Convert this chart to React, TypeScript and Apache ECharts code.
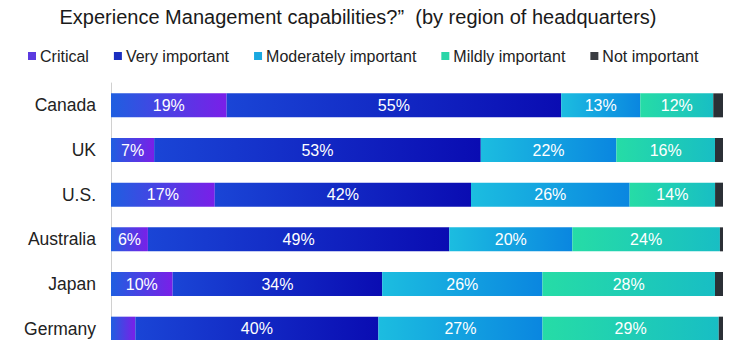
import React, { useEffect, useRef } from "react";
import * as echarts from "echarts";

const categories = ["Canada", "UK", "U.S.", "Australia", "Japan", "Germany"];
const critical = [19, 7, 17, 6, 10, 4];
const veryImportant = [55, 53, 42, 49, 34, 40];
const moderatelyImportant = [13, 22, 26, 20, 26, 27];
const mildlyImportant = [12, 16, 14, 24, 28, 29];
const notImportant = [1.6, 1.3, 1.3, 0.5, 1.3, 0.7];

const titleLine = "Experience Management capabilities?\u201D  (by region of headquarters)";

const seriesDefs = [
  { name: "Critical", data: critical, from: "#1f5fe0", to: "#7a1fe8", legend: "#5b3be0" },
  { name: "Very important", data: veryImportant, from: "#1a45d6", to: "#0a0cb2", legend: "#1a2ec0" },
  { name: "Moderately important", data: moderatelyImportant, from: "#1cbde0", to: "#0a86e0", legend: "#1aa8e0" },
  { name: "Mildly important", data: mildlyImportant, from: "#26dca6", to: "#18bec4", legend: "#2ad6a8" },
  { name: "Not important", data: notImportant, from: "#2b3036", to: "#2b3036", legend: "#3a3d42" },
];

const FONT = "'Liberation Sans', Arial, sans-serif";

export default function App() {
  const ref = useRef<HTMLDivElement>(null);
  useEffect(() => {
    if (!ref.current) return;
    const chart = echarts.init(ref.current, undefined, { renderer: "svg" });
    const totals = categories.map((_, i) =>
      seriesDefs.reduce((s, d) => s + d.data[i], 0)
    );
    chart.setOption({
      animation: false,
      backgroundColor: "#ffffff",
      textStyle: { fontFamily: FONT },
      graphic: [
        {
          type: "text",
          x: 358,
          y: 7,
          style: {
            text: titleLine,
            fontSize: 20,
            fontFamily: FONT,
            fill: "#1a1a1a",
            align: "center",
          },
        },
      ],
      legend: {
        top: 43,
        left: 23,
        itemWidth: 8,
        itemHeight: 8,
        itemGap: 25,
        icon: "rect",
        textStyle: { fontSize: 16, color: "#222", fontFamily: FONT, padding: [0, 0, 0, -1] },
        data: seriesDefs.map((d) => ({ name: d.name, itemStyle: { color: d.legend } })),
      },
      grid: { left: 111, width: 612, top: 83, height: 268, containLabel: false },
      xAxis: { type: "value", min: 0, max: 100, show: false },
      yAxis: {
        type: "category",
        data: categories,
        inverse: true,
        axisTick: { show: false },
        axisLine: { show: true, lineStyle: { color: "#d0d0d0", width: 1 } },
        axisLabel: { fontSize: 17.5, color: "#222", margin: 15, fontFamily: FONT },
      },
      series: seriesDefs.map((d, si) => ({
        name: d.name,
        type: "bar",
        stack: "all",
        barWidth: 24,
        data: d.data.map((v, i) => (v / totals[i]) * 100),
        itemStyle: {
          color: new echarts.graphic.LinearGradient(0, 0, 1, 0, [
            { offset: 0, color: d.from },
            { offset: 1, color: d.to },
          ]),
        },
        label: {
          show: si < 4,
          position: "inside",
          color: "#ffffff",
          fontSize: 16,
          fontFamily: FONT,
          formatter: (p: any) => {
            const v = d.data[p.dataIndex];
            return v < 5 ? "" : `${v}%`;
          },
        },
      })),
    });
    return () => chart.dispose();
  }, []);
  return (
    <div
      style={{ position: "fixed", left: 0, top: 0, width: 730, height: 340, overflow: "hidden", background: "#fff" }}
    >
      <div ref={ref} style={{ width: 730, height: 352 }} />
    </div>
  );
}
